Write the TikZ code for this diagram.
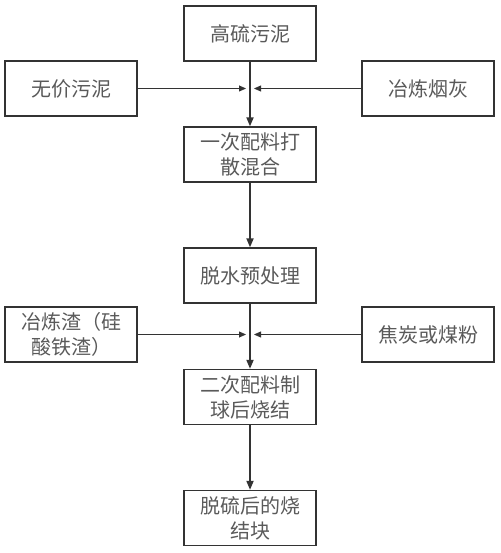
\documentclass[tikz,border=0pt]{standalone}
\usepackage{fontspec}
\newfontfamily\cjk{Noto Sans CJK SC}
\usetikzlibrary{arrows.meta}
\definecolor{txt}{HTML}{5A5A5A}
\definecolor{ln}{HTML}{333333}
\begin{document}
\begin{tikzpicture}[x=1pt,y=-1pt,
  box/.style={draw=ln,line width=1.3pt,minimum width=132pt,minimum height=55pt,inner sep=0pt,
    align=center,font=\cjk\fontsize{20}{25}\selectfont,text=txt},
  main/.style={draw=ln,line width=1.8pt,-{Triangle[length=9pt,width=7pt]}},
  side/.style={draw=ln,line width=0.8pt,-{Triangle[length=7pt,width=6pt]}}]
\useasboundingbox (0,0) rectangle (500,553);
\node[box] (a) at (250,33.5) {高硫污泥};
\node[box] (l1) at (71,88.5) {无价污泥};
\node[box] (r1) at (428,88.5) {冶炼烟灰};
\node[box] (b) at (250,154.5) {一次配料打\\散混合};
\node[box] (c) at (250,275.5) {脱水预处理};
\node[box] (l2) at (71,334.5) {冶炼渣（硅\\酸铁渣）};
\node[box] (r2) at (428,334.5) {焦炭或煤粉};
\node[box] (d) at (250,397) {二次配料制\\球后烧结};
\node[box] (e) at (250,518) {脱硫后的烧\\结块};
\coordinate (j1l) at (246,88.5);
\coordinate (j1r) at (254,88.5);
\coordinate (j2l) at (246,334.5);
\coordinate (j2r) at (254,334.5);
\draw[main] (a) -- (b);
\draw[main] (b) -- (c);
\draw[main] (c) -- (d);
\draw[main] (d) -- (e);
\draw[side] (l1) -- (j1l);
\draw[side] (r1) -- (j1r);
\draw[side] (l2) -- (j2l);
\draw[side] (r2) -- (j2r);
\end{tikzpicture}
\end{document}
